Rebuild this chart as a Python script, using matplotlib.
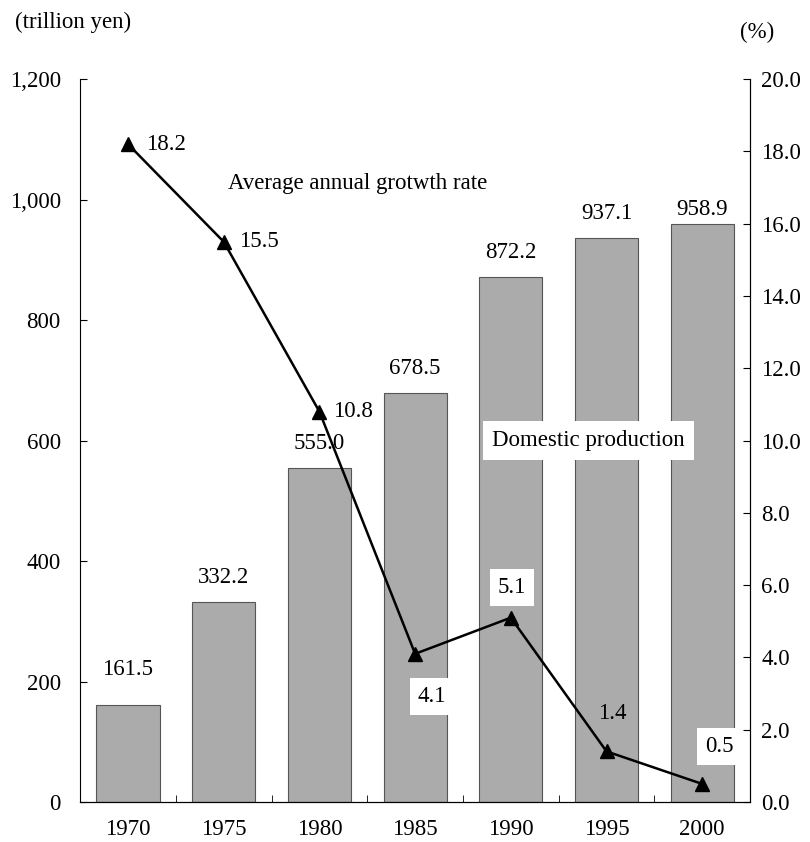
import matplotlib
matplotlib.use('Agg')
import matplotlib.pyplot as plt

plt.rcParams['font.family'] = ['Liberation Serif', 'DejaVu Serif']

years = ['1970', '1975', '1980', '1985', '1990', '1995', '2000']
production = [161.5, 332.2, 555.0, 678.5, 872.2, 937.1, 958.9]
growth = [18.2, 15.5, 10.8, 4.1, 5.1, 1.4, 0.5]

# label offsets (points) for bar values and growth rate points
bar_offsets = [18, 10, 10, 10, 10, 10, 3]
growth_offsets = [(27, 0), (25, 0), (24, 0), (12, -31), (1, 22), (4, 27), (12, 27)]
growth_boxed = [False, False, False, True, True, False, True]

FS = 16.5
BAR_COLOR = '#ababab'

fig = plt.figure(figsize=(8.1, 8.42), dpi=100)
ax = fig.add_axes([0.099, 0.0475, 0.827, 0.8585])
x = list(range(len(years)))

ax.bar(x, production, width=0.66, color=BAR_COLOR, edgecolor='#555555', linewidth=0.8, zorder=2)
for xi, v, off in zip(x, production, bar_offsets):
    ax.annotate(f'{v:.1f}', (xi, v), textcoords='offset points', xytext=(0, off),
                ha='center', va='bottom', fontsize=FS)

ax.set_xlim(-0.5, len(years) - 0.5)
ax.set_ylim(0, 1200)
ax.set_yticks([0, 200, 400, 600, 800, 1000, 1200])
ax.set_yticklabels(['0', '200', '400', '600', '800', '1,000', '1,200'], fontsize=FS)
ax.set_xticks(x)
ax.set_xticklabels(years, fontsize=FS)
ax.tick_params(axis='x', length=0, pad=12)
ax.set_xticks([i + 0.5 for i in x[:-1]], minor=True)
ax.tick_params(axis='x', which='minor', direction='in', length=5)
ax.tick_params(axis='y', direction='in', length=5, pad=14)
ax.spines['top'].set_visible(False)
ax.spines['left'].set_color('#555555')
ax.spines['left'].set_linewidth(0.7)

ax2 = ax.twinx()
ax2.plot(x, growth, color='black', linewidth=1.8, marker='^', markersize=10, zorder=5)
ax2.set_ylim(0, 20)
ax2.set_yticks([0, 2, 4, 6, 8, 10, 12, 14, 16, 18, 20])
ax2.set_yticklabels([f'{v:.1f}' for v in range(0, 21, 2)], fontsize=FS)
ax2.tick_params(axis='y', direction='in', length=5, pad=8)
ax2.spines['top'].set_visible(False)
for xi, v, off, boxed in zip(x, growth, growth_offsets, growth_boxed):
    bbox = dict(boxstyle='square,pad=0.35', facecolor='white', edgecolor='none') if boxed else None
    ax2.annotate(f'{v:.1f}', (xi, v), textcoords='offset points', xytext=off,
                 ha='center', va='center', fontsize=FS, bbox=bbox)

ax2.text(0.221, 0.855, 'Average annual grotwth rate', transform=ax.transAxes,
         fontsize=FS, ha='left', va='center')
ax2.text(0.615, 0.5, 'Domestic production', transform=ax.transAxes,
         fontsize=FS, ha='left', va='center',
         bbox=dict(boxstyle='square,pad=0.4', facecolor='white', edgecolor='none'))

fig.text(0.018, 0.973, '(trillion yen)', fontsize=FS, ha='left', va='center')
fig.text(0.914, 0.962, '(%)', fontsize=FS, ha='left', va='center')

fig.savefig('out.png', dpi=100)
